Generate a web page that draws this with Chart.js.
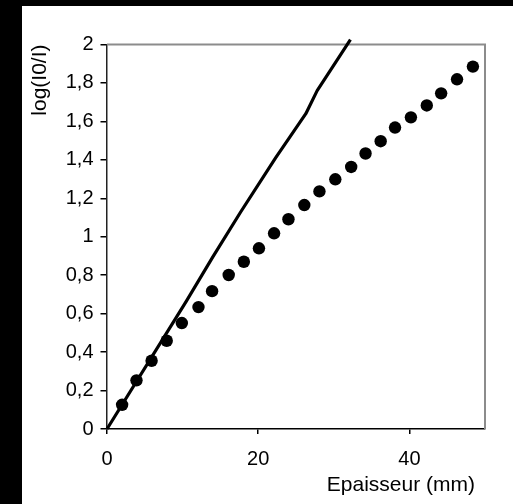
<!DOCTYPE html>
<html>
<head>
<meta charset="utf-8">
<title>log(I0/I) en fonction de l'épaisseur</title>
<script src="https://cdn.jsdelivr.net/npm/chart.js@4.4.1/dist/chart.umd.min.js"></script>
<style>
  html, body { margin: 0; padding: 0; background: #000; }
  body { width: 513px; height: 504px; position: relative; overflow: hidden; }
  #chart { position: absolute; left: 22px; top: 6px; background: #fff; }
</style>
</head>
<body>
<canvas id="chart" width="491" height="498"></canvas>
<script>
// Mesures : épaisseur (mm) et absorbance log(I0/I)
const epaisseurMesures = [2, 3.9, 5.9, 7.9, 9.9, 12.1, 13.9, 16.1, 18.1, 20.1, 22.1, 24, 26.1, 28.1, 30.2, 32.3, 34.2, 36.2, 38.1, 40.2, 42.3, 44.2, 46.3, 48.4];
const absorbanceMesures = [0.126, 0.253, 0.355, 0.459, 0.551, 0.634, 0.717, 0.801, 0.870, 0.940, 1.018, 1.091, 1.165, 1.236, 1.299, 1.363, 1.433, 1.497, 1.568, 1.621, 1.683, 1.746, 1.819, 1.885];

// Courbe de référence (loi de Beer-Lambert)
const epaisseurTheorique = [0, 10.5, 14, 17.7, 22.3, 24.2, 26.3, 27.8, 32.2];
const absorbanceTheorique = [0, 0.665, 0.895, 1.13, 1.41, 1.52, 1.64, 1.76, 2.025];

// Graduations
const xTickLabels = ['0', '20', '40'];
const yTickLabels = ['0', '0,2', '0,4', '0,6', '0,8', '1', '1,2', '1,4', '1,6', '1,8', '2'];

const FONT = '"Liberation Sans", Arial, sans-serif';

const toPoints = (xs, ys) => xs.map((x, i) => ({ x: x, y: ys[i] }));

// Cadre gris en haut et à droite, titre de l'axe des abscisses aligné à droite
const cadre = {
  id: 'cadre',
  beforeDatasetsDraw(chart) {
    const { ctx, chartArea: a } = chart;
    ctx.save();
    ctx.strokeStyle = '#8c8c8c';
    ctx.lineWidth = 2;
    ctx.beginPath();
    ctx.moveTo(a.left, a.top);
    ctx.lineTo(a.right, a.top);
    ctx.lineTo(a.right, a.bottom);
    ctx.stroke();
    ctx.restore();
  },
  afterDraw(chart) {
    const { ctx, chartArea: a } = chart;
    ctx.save();
    ctx.font = '21px ' + FONT;
    ctx.fillStyle = '#000';
    ctx.textAlign = 'right';
    ctx.textBaseline = 'middle';
    ctx.fillText('Epaisseur (mm)', a.right - 10, a.bottom + 56);
    ctx.restore();
  }
};

new Chart(document.getElementById('chart'), {
  type: 'scatter',
  data: {
    datasets: [
      {
        label: 'Théorie',
        data: toPoints(epaisseurTheorique, absorbanceTheorique),
        showLine: true,
        borderColor: '#000',
        borderWidth: 3.2,
        borderJoinStyle: 'round',
        pointRadius: 0,
        tension: 0,
        clip: false
      },
      {
        label: 'Mesures',
        data: toPoints(epaisseurMesures, absorbanceMesures),
        showLine: false,
        backgroundColor: '#000',
        borderColor: '#000',
        borderWidth: 0,
        pointRadius: 6.2
      }
    ]
  },
  options: {
    responsive: false,
    animation: false,
    layout: { padding: { left: 0, right: 28, top: 38.5, bottom: 0 } },
    plugins: {
      legend: { display: false },
      tooltip: { enabled: false }
    },
    scales: {
      x: {
        type: 'linear',
        min: 0,
        max: 50,
        afterFit(scale) { scale.height = 75; },
        border: { display: true, color: '#000', width: 1.5 },
        grid: { drawOnChartArea: false, drawTicks: true, tickLength: 5, color: '#000', lineWidth: 1.5 },
        ticks: {
          stepSize: 20,
          includeBounds: false,
          padding: 13,
          color: '#000',
          font: { family: FONT, size: 20 },
          callback: (v, i) => xTickLabels[i]
        }
      },
      y: {
        type: 'linear',
        min: 0,
        max: 2,
        afterFit(scale) { scale.width = 85; },
        border: { display: true, color: '#222', width: 1.5 },
        grid: { drawOnChartArea: false, drawTicks: true, tickLength: 6.5, color: '#000', lineWidth: 1.5 },
        ticks: {
          stepSize: 0.2,
          padding: 7,
          color: '#000',
          font: { family: FONT, size: 20 },
          callback: (v, i) => yTickLabels[i]
        },
        title: {
          display: true,
          text: 'log(I0/I)',
          align: 'end',
          color: '#000',
          font: { family: FONT, size: 21 },
          padding: { top: 6, bottom: 0 }
        }
      }
    }
  },
  plugins: [cadre]
});
</script>
</body>
</html>
